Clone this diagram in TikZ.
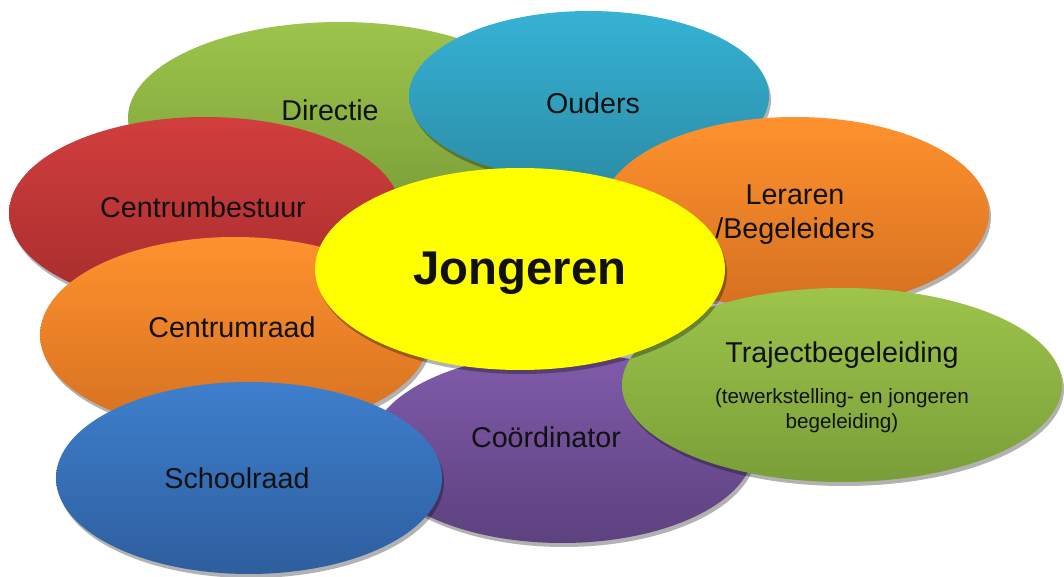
\documentclass[tikz,border=0pt]{standalone}
\usepackage{fontspec}
\setmainfont{Liberation Sans}
\usetikzlibrary{shapes.geometric,shadows}
\definecolor{leafgreentop}{RGB}{157,196,75}
\definecolor{leafgreenbot}{RGB}{122,158,56}
\definecolor{skybluetop}{RGB}{54,178,213}
\definecolor{skybluebot}{RGB}{44,142,168}
\definecolor{brickredtop}{RGB}{209,62,61}
\definecolor{brickredbot}{RGB}{166,44,45}
\definecolor{tangerinetop}{RGB}{255,146,46}
\definecolor{tangerinebot}{RGB}{213,112,33}
\definecolor{violettop}{RGB}{128,91,170}
\definecolor{violetbot}{RGB}{93,65,127}
\definecolor{royalbluetop}{RGB}{62,127,205}
\definecolor{royalbluebot}{RGB}{46,94,158}
\definecolor{centreyellow}{RGB}{255,255,0}
\definecolor{inktext}{RGB}{17,17,17}
\newcommand\bubblesize{\fontsize{21.5}{25.5}\selectfont}
\newcommand\trajectsub{\fontsize{15.5}{18.75}\selectfont}

\tikzset{
  bubble/.style={ellipse, inner sep=0pt,
    drop shadow={shadow xshift=1.5pt, shadow yshift=-3pt, fill=black, opacity=0.3}},
  bubble label/.style={inner sep=0pt, align=center, text=inktext, font=\bubblesize},
  green bubble/.style={bubble, top color=leafgreentop, bottom color=leafgreenbot},
  orange bubble/.style={bubble, top color=tangerinetop, bottom color=tangerinebot}
}

\begin{document}
\begin{tikzpicture}[x=0.75pt, y=-0.75pt]
\fill[white] (0,0) rectangle (1064,577);
\useasboundingbox (0,0) rectangle (1064,577);

% outer ring, back to front
\node[green bubble, minimum width=318pt, minimum height=144pt,
  label={[bubble label, xshift=-7.5pt, yshift=6pt]center:Directie}] (directie) at (340,118) {};
\node[bubble, top color=skybluetop, bottom color=skybluebot, minimum width=270pt, minimum height=127.5pt,
  label={[bubble label, xshift=3pt, yshift=-5.25pt]center:Ouders}] (ouders) at (589,96) {};
\node[bubble, top color=brickredtop, bottom color=brickredbot, minimum width=294pt, minimum height=144pt,
  label={[bubble label, xshift=-1.5pt, yshift=4.5pt]center:Centrumbestuur}] (bestuur) at (205,213) {};
\node[orange bubble, minimum width=291pt, minimum height=144pt,
  label={[bubble label, yshift=-1.5pt]center:Leraren\\/Begeleiders}] (leraren) at (795,213) {};
\node[orange bubble, minimum width=292.5pt, minimum height=147pt,
  label={[bubble label, xshift=-2.25pt, yshift=6pt]center:Centrumraad}] (raad) at (235,335) {};
\node[bubble, top color=violettop, bottom color=violetbot, minimum width=288pt, minimum height=142.5pt,
  label={[bubble label, xshift=-12pt, yshift=8.25pt]center:Coördinator}] (coord) at (562,448) {};
\node[bubble, top color=royalbluetop, bottom color=royalbluebot, minimum width=289.5pt, minimum height=144pt,
  label={[bubble label, xshift=-9pt]center:Schoolraad}] (school) at (249,478) {};
\node[green bubble, minimum width=330pt, minimum height=145.5pt,
  label={[bubble label, font=\trajectsub, yshift=-1.5pt]center:{\bubblesize Trajectbegeleiding}\\[12pt](tewerkstelling- en jongeren\\begeleiding)}] (traject) at (842,385) {};

% centre
\node[bubble, fill=centreyellow, minimum width=307.5pt, minimum height=151.5pt,
  label={[bubble label, font=\fontsize{35.5}{40}\selectfont\bfseries, yshift=-3pt]center:Jongeren}] (jongeren) at (520,269) {};
\end{tikzpicture}
\end{document}
